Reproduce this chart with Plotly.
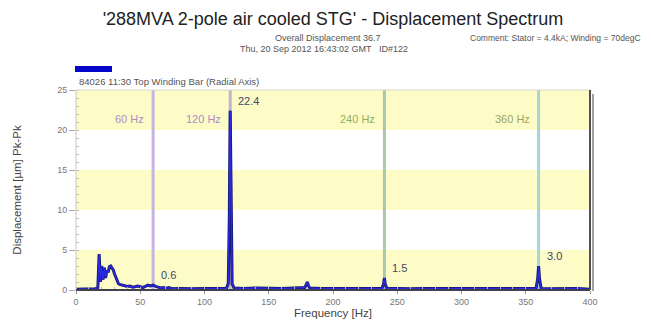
import plotly.graph_objects as go

# ---- data ----
freq = [0, 5, 10, 15, 17, 18, 19, 20, 21, 22, 23, 24, 25, 26, 27, 28, 29, 30, 31, 32, 33, 34,
        36, 38, 40, 42, 44, 46, 48, 50, 52, 54, 56, 58, 60, 62, 64, 66, 68, 70, 72, 75, 80,
        90, 100, 110, 117, 118.5, 119.3, 120, 120.7, 121.5, 123, 130, 140, 150, 160, 170,
        178, 179, 180, 181, 182, 190, 200, 210, 220, 230, 238, 239.3, 240, 240.7, 242,
        250, 260, 270, 280, 290, 300, 310, 320, 330, 340, 350, 358, 359.3, 360, 360.7, 362,
        370, 380, 390, 400]
amp = [0.1, 0.12, 0.1, 0.15, 0.3, 4.5, 1.0, 3.0, 1.3, 2.8, 1.5, 2.4, 2.2, 2.9, 3.0, 2.8, 2.5,
       2.0, 1.5, 1.0, 0.8, 0.7, 0.6, 0.5, 0.45, 0.5, 0.35, 0.4, 0.5, 0.4, 0.3, 0.45, 0.6,
       0.5, 0.6, 0.45, 0.3, 0.25, 0.3, 0.2, 0.3, 0.15, 0.2, 0.15, 0.2, 0.15, 0.2, 0.8, 9.0,
       22.4, 9.0, 0.8, 0.25, 0.2, 0.25, 0.2, 0.2, 0.25, 0.3, 0.6, 1.0, 0.5, 0.25, 0.2, 0.2,
       0.15, 0.2, 0.2, 0.2, 0.7, 1.5, 0.7, 0.2, 0.2, 0.15, 0.2, 0.2, 0.15, 0.2, 0.15, 0.2,
       0.15, 0.2, 0.2, 0.2, 1.4, 3.0, 1.4, 0.2, 0.15, 0.15, 0.2, 0.1]

harmonic_freqs = [60, 120, 240, 360]
harmonic_labels = ["60 Hz", "120 Hz", "240 Hz", "360 Hz"]
harmonic_line_colors = ["#c8b4e4", "#bdb4c8", "#a9c8ac", "#a8d4d6"]
harmonic_text_colors = ["#ad8cc8", "#ad8cc8", "#93ad63", "#9ca463"]

peak_freqs = [60, 120, 240, 360]
peak_values = [0.6, 22.4, 1.5, 3.0]
peak_labels = ["0.6", "22.4", "1.5", "3.0"]

band_edges = [(0, 5), (10, 15), (20, 25)]

x_ticks = [0, 50, 100, 150, 200, 250, 300, 350, 400]
y_ticks = [0, 5, 10, 15, 20, 25]

title = "'288MVA 2-pole air cooled STG' - Displacement Spectrum"
sub_overall = "Overall Displacement 36.7"
sub_comment = "Comment: Stator = 4.4kA; Winding = 70degC"
sub_date = "Thu, 20 Sep 2012 16:43:02 GMT   ID#122"
series_name = "84026 11:30 Top Winding Bar (Radial Axis)"
x_title = "Frequency [Hz]"
y_title = "Displacement [\u00b5m] Pk-Pk"

FONT = "Liberation Sans, Arial, sans-serif"
W, H = 651, 325
ML, MR, MT, MB = 76, 61, 90, 35
PW, PH = W - ML - MR, H - MT - MB


def px_to_paper(xpx, ypx):
    return (xpx - ML) / PW, (H - MB - ypx) / PH


fig = go.Figure()

fig.add_trace(go.Scatter(x=freq, y=amp, mode="lines",
                         line=dict(color="#14146e", width=3.0), hoverinfo="skip",
                         showlegend=False))
fig.add_trace(go.Scatter(x=freq, y=amp, mode="lines",
                         line=dict(color="#2a2ae0", width=1.5), name=series_name,
                         showlegend=False))

shapes = []
for y0, y1 in band_edges:
    shapes.append(dict(type="rect", xref="x", yref="y", x0=0, x1=400, y0=y0, y1=y1,
                       fillcolor="#fdfcc6", line=dict(width=0), layer="below"))
for f, c in zip(harmonic_freqs, harmonic_line_colors):
    shapes.append(dict(type="line", xref="x", yref="y", x0=f, x1=f, y0=0, y1=25,
                       line=dict(color=c, width=3), layer="below"))

sx0, sy0 = px_to_paper(75, 66)
sx1, sy1 = px_to_paper(112, 72)
shadow_x, _ = px_to_paper(ML + PW + 3, 0)
shapes += [
    dict(type="line", xref="paper", yref="paper", x0=0, x1=1, y0=1, y1=1,
         line=dict(color="#d8d8c8", width=1)),
    dict(type="line", xref="paper", yref="paper", x0=0, x1=0, y0=0, y1=1,
         line=dict(color="#c8c8c8", width=1)),
    dict(type="line", xref="paper", yref="paper", x0=1, x1=1, y0=0, y1=1,
         line=dict(color="#505050", width=2)),
    dict(type="line", xref="paper", yref="paper", x0=shadow_x, x1=shadow_x, y0=-0.005, y1=0.98,
         line=dict(color="#a0a0a0", width=2)),
    dict(type="line", xref="paper", yref="paper", x0=0, x1=1, y0=0, y1=0,
         line=dict(color="#404050", width=2)),
    dict(type="rect", xref="paper", yref="paper", x0=sx0, x1=sx1, y0=sy1, y1=sy0,
         fillcolor="#0606c8", line=dict(width=0)),
]

annotations = []
for f, lab, c in zip(harmonic_freqs, harmonic_labels, harmonic_text_colors):
    annotations.append(dict(x=f, y=21.4, xref="x", yref="y", text=lab, showarrow=False,
                            xanchor="right", xshift=-7, font=dict(size=11, color=c, family=FONT)))
for f, v, lab in zip(peak_freqs, peak_values, peak_labels):
    annotations.append(dict(x=f, y=v, xref="x", yref="y", text=lab, showarrow=False,
                            xanchor="left", yanchor="middle", xshift=6, yshift=10,
                            font=dict(size=11, color="#44446a", family=FONT)))

header = [
    (sub_overall, 273, 38, "left", 9),
    (sub_comment, 468, 38, "left", 8.5),
    (sub_date, 238, 49, "left", 9),
    (series_name, 77, 81, "left", 9.5),
]
for t, xpx, ypx, anc, sz in header:
    xp, yp = px_to_paper(xpx, ypx)
    annotations.append(dict(x=xp, y=yp, xref="paper", yref="paper", text=t,
                            showarrow=False, xanchor=anc, yanchor="middle",
                            font=dict(size=sz, color="#555555", family=FONT)))

fig.update_layout(
    width=W, height=H,
    margin=dict(l=ML, r=MR, t=MT, b=MB, autoexpand=False),
    paper_bgcolor="white", plot_bgcolor="white",
    font=dict(family=FONT, color="#555555"),
    title=dict(text=title, x=(ML + PW / 2) / W, xanchor="center", y=1 - 19 / H,
               yanchor="middle", yref="container",
               font=dict(size=18, color="#222222", family=FONT)),
    xaxis=dict(range=[0, 400], tickvals=x_ticks, showgrid=False, zeroline=False,
               automargin=False,
               ticks="outside", ticklen=3, tickcolor="#999999",
               tickfont=dict(size=9, color="#777777"),
               minor=dict(dtick=10, ticks="inside", ticklen=3, tickcolor="#bbbbbb"),
               title=dict(text=x_title, font=dict(size=11.5, color="#444444"), standoff=3)),
    yaxis=dict(range=[0, 25], tickvals=y_ticks, showgrid=False, zeroline=False,
               automargin=False,
               ticks="outside", ticklen=6, tickcolor="#aaaaaa",
               tickfont=dict(size=9, color="#777777"),
               minor=dict(dtick=1, ticks="inside", ticklen=3, tickcolor="#bbbbbb"),
               title=dict(text=y_title, font=dict(size=11.5, color="#444444"), standoff=33)),
    shapes=shapes,
    annotations=annotations,
)

fig.write_html("out.html", config={"displayModeBar": False},
               post_script="document.body.style.margin='0';")
